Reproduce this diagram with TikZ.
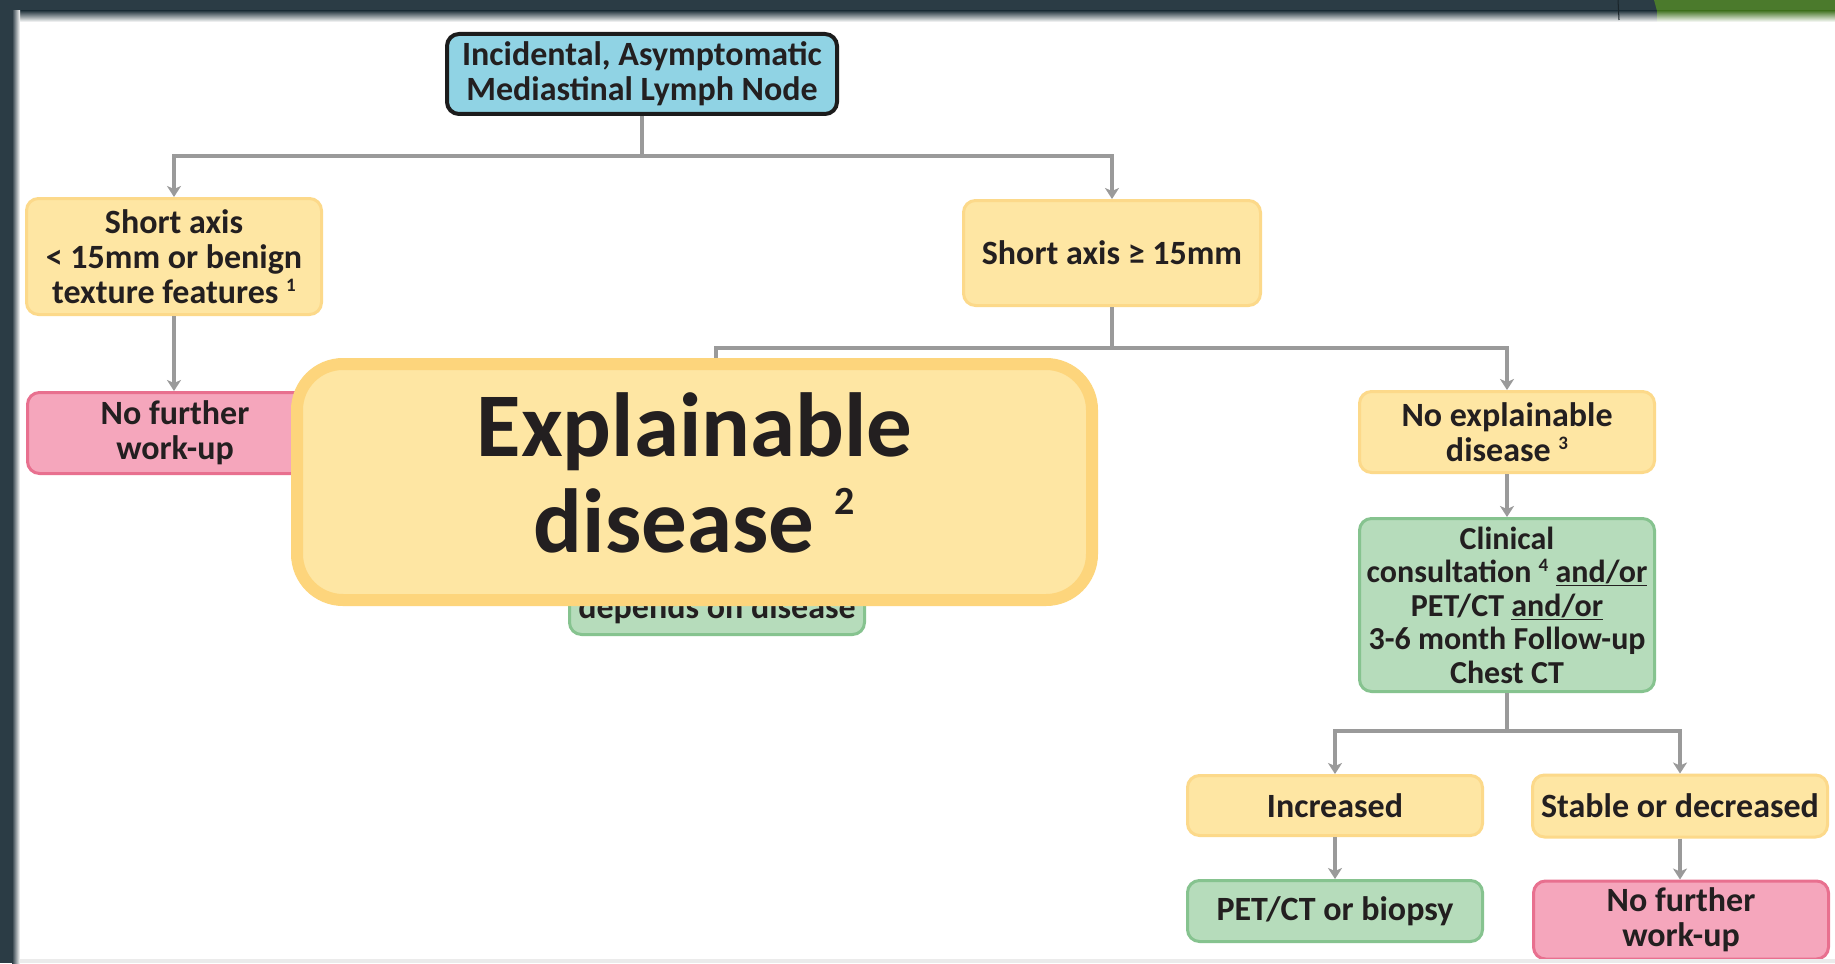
\documentclass[tikz,border=0pt]{standalone}
\usepackage{fontspec}
\setmainfont{Carlito}
\usetikzlibrary{arrows.meta}
\definecolor{framec}{HTML}{2B3C45}
\definecolor{greenc}{HTML}{4B7A2C}
\definecolor{txt}{HTML}{231F20}
\definecolor{bfill}{HTML}{90D3E4}
\definecolor{bdraw}{HTML}{1C1C1C}
\definecolor{yfill}{HTML}{FEE6A3}
\definecolor{ydraw}{HTML}{FCD98A}
\definecolor{ydrawbig}{HTML}{FDD57C}
\definecolor{gfill}{HTML}{B6DCBB}
\definecolor{gdraw}{HTML}{86C38F}
\definecolor{pfill}{HTML}{F5A6BC}
\definecolor{pdraw}{HTML}{E8708F}
\definecolor{conng}{HTML}{9A9A9A}
\newcommand\fnote[1]{\raisebox{0.36em}{\fontsize{19}{19}\selectfont #1}}
\begin{document}
\begin{tikzpicture}[x=1pt,y=-1pt,
  box/.style={rectangle, rounded corners=12pt, line width=3pt, align=center,
    font=\fontsize{34}{35}\selectfont\bfseries, text=txt, inner sep=0pt,
    minimum width=295pt},
  ybox/.style={box, fill=yfill, draw=ydraw},
  gbox/.style={box, fill=gfill, draw=gdraw},
  pbox/.style={box, fill=pfill, draw=pdraw},
  bbox/.style={box, fill=bfill, draw=bdraw, line width=4pt},
  conn/.style={draw=conng, line width=4pt, -{Stealth[length=11pt,width=14pt,inset=3pt]}}]
\useasboundingbox (0,0) rectangle (1835,963);
\fill[white] (0,0) rectangle (1835,963);

% nodes
\node[bbox, minimum width=390pt, minimum height=80pt] (top) at (642,74)
  {Incidental, Asymptomatic\\Mediastinal Lymph Node};
\node[ybox, minimum height=116pt] (sa) at (174,256.5)
  {Short axis\\< 15mm or benign\\texture features \fnote{1}};
\node[ybox, minimum width=297pt, minimum height=105pt] (sb) at (1112,253)
  {Short axis ≥ 15mm};
\node[pbox, minimum height=81pt] (nf1) at (175,433) {No further\\work-up};
\node[ybox, minimum height=81pt] (ne) at (1507,432)
  {No explainable\\disease \fnote{3}};
\node[gbox, minimum height=173pt, font=\fontsize{32}{33.5}\selectfont\bfseries] (cc) at (1507,605)
  {Clinical\\consultation \fnote{4} \underline{and/or}\\PET/CT \underline{and/or}\\3-6 month Follow-up\\Chest CT};
\node[ybox, minimum height=60pt] (inc) at (1335,805.5) {Increased};
\node[ybox, minimum height=62pt] (st) at (1680,806) {Stable or decreased};
\node[gbox, minimum height=61pt] (pet) at (1335,911) {PET/CT or biopsy};
\node[pbox, minimum height=78pt] (nf2) at (1681,920) {No further\\work-up};
\node[gbox, minimum height=116pt] (dd) at (717,576.5) {};
\node[anchor=base, font=\fontsize{34}{35}\selectfont\bfseries, text=txt, inner sep=0pt] (ddt) at (717,618) {depends on disease};
\coordinate (ed) at (716,391);

% connectors
\draw[conn] (top.south) -- ++(0,40) -| (sa.north);
\draw[conn] (top.south) -- ++(0,40) -| (sb.north);
\draw[conn] (sa.south) -- (sa.south |- nf1.north);
\draw[conn] (sb.south) -- ++(0,41) -| (ed);
\draw[conn] (sb.south) -- ++(0,41) -| (ne.north);
\draw[conn] (ne.south) -- (cc.north);
\draw[conn] (cc.south) -- ++(0,38) -| (inc.north);
\draw[conn] (cc.south) -- ++(0,38) -| (st.north);
\draw[conn] (inc.south) -- (pet.north);
\draw[conn] (st.south) -- (st.south |- nf2.north);

% overlay
\node[rectangle, rounded corners=46pt, line width=12pt, fill=yfill, draw=ydrawbig,
  minimum width=795pt, minimum height=236pt, inner sep=0pt] (ov) at (694.5,482) {};
\node[align=center, inner sep=0pt, font=\fontsize{91}{96}\selectfont\bfseries, text=txt,
  yshift=9pt] (ovt) at (ov.center)
  {Explainable\\disease \raisebox{0.42em}{\fontsize{40}{40}\selectfont 2}};

% frame
\fill[framec] (0,0) rectangle (1835,11);
\shade[top color=framec, bottom color=white] (0,11) rectangle (1835,22);
\fill[greenc] (1654,0) -- (1835,0) -- (1835,11) -- (1657,11) -- cycle;
\shade[top color=greenc, bottom color=white] (1657,11) rectangle (1835,22);
\draw[framec!60!black, line width=1pt] (1618,0) -- (1619,20);
\fill[framec] (0,0) rectangle (12,963);
\shade[left color=framec, right color=white] (12,11) rectangle (20,963);
\fill[black!8] (20,959) rectangle (1835,963);
\end{tikzpicture}
\end{document}
